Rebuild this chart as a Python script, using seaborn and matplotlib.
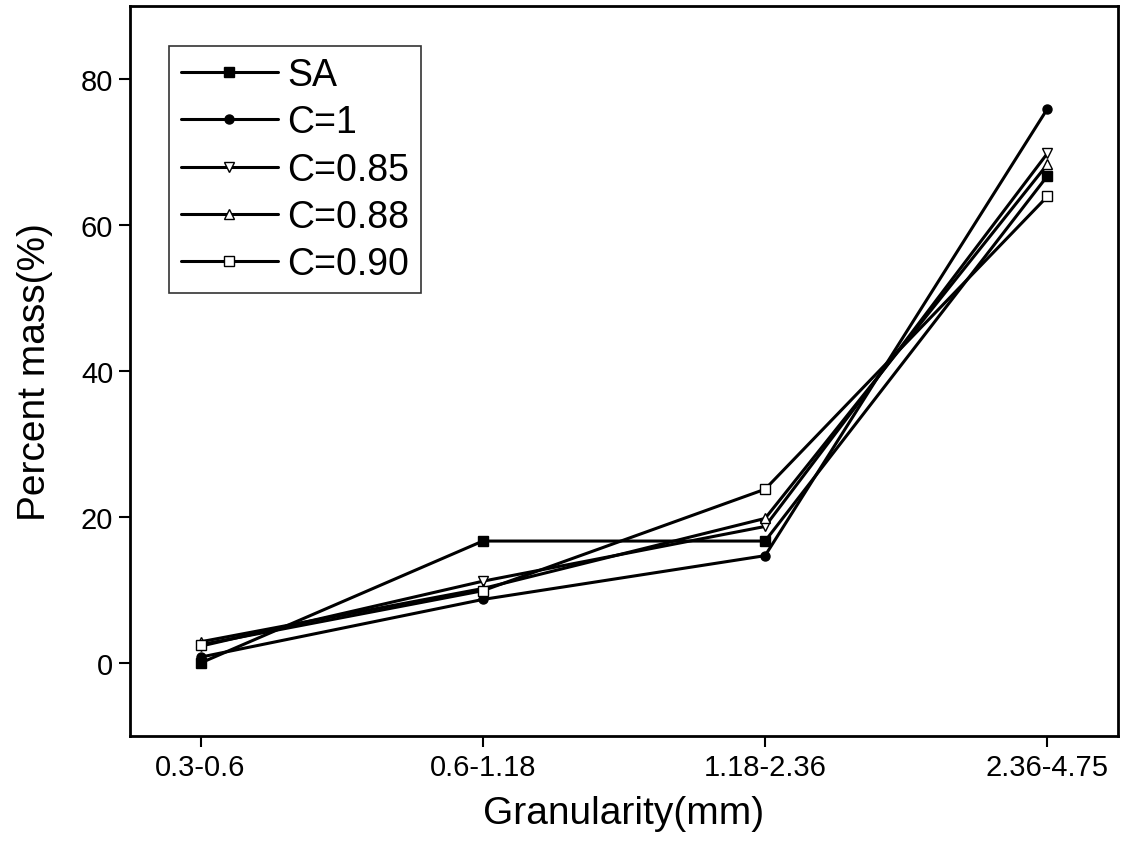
import matplotlib
matplotlib.use("Agg")
import matplotlib.pyplot as plt
import pandas as pd
import seaborn as sns

sizes = ['0.3-0.6', '0.6-1.18', '1.18-2.36', '2.36-4.75']
sa = [0.0, 16.7, 16.7, 66.7]
c_1 = [0.8, 8.7, 14.7, 75.9]
c_085 = [2.3, 11.2, 18.7, 69.8]
c_088 = [2.9, 10.2, 19.8, 68.3]
c_090 = [2.5, 9.9, 23.8, 63.9]

series = [
    ('SA', sa, 's', 'black'),
    ('C=1', c_1, 'o', 'black'),
    ('C=0.85', c_085, 'v', 'white'),
    ('C=0.88', c_088, '^', 'white'),
    ('C=0.90', c_090, 's', 'white'),
]

sns.set_style('ticks')
plt.rcParams['font.family'] = ['Liberation Sans', 'DejaVu Sans']
plt.rcParams['text.color'] = 'black'

fig = plt.figure(figsize=(11.27, 8.54), dpi=100)
ax = fig.add_axes([0.1153, 0.137, 0.8767, 0.855])

for name, vals, mk, fc in series:
    df = pd.DataFrame({'size': sizes, 'mass': vals})
    sns.lineplot(data=df, x='size', y='mass', ax=ax, color='black', lw=2.2,
                 marker=mk, markersize=6.5, markerfacecolor=fc,
                 markeredgecolor='black', markeredgewidth=1.0, label=name)

ax.set_xlim(-0.25, 3.25)
ax.set_ylim(-10, 90)
ax.set_yticks([0, 20, 40, 60, 80])
ax.set_xlabel('Granularity(mm)', fontsize=28, labelpad=10, color='black')
ax.set_ylabel('Percent mass(%)', fontsize=28, labelpad=20, color='black')
ax.tick_params(axis='both', labelsize=21, direction='out', length=8, width=1.5,
               colors='black', pad=4)
for s in ax.spines.values():
    s.set_visible(True)
    s.set_linewidth(2)
    s.set_color('black')

leg = ax.legend(loc='upper left', bbox_to_anchor=(0.04, 0.945), fontsize=27,
                handlelength=2.6, handletextpad=0.25, labelspacing=0.3,
                borderpad=0.3, borderaxespad=0, fancybox=False, framealpha=1,
                numpoints=1)
leg.get_frame().set_edgecolor('#333333')
leg.get_frame().set_linewidth(1.2)
for t in leg.get_texts():
    t.set_color('black')

fig.savefig('out.png', dpi=100)
